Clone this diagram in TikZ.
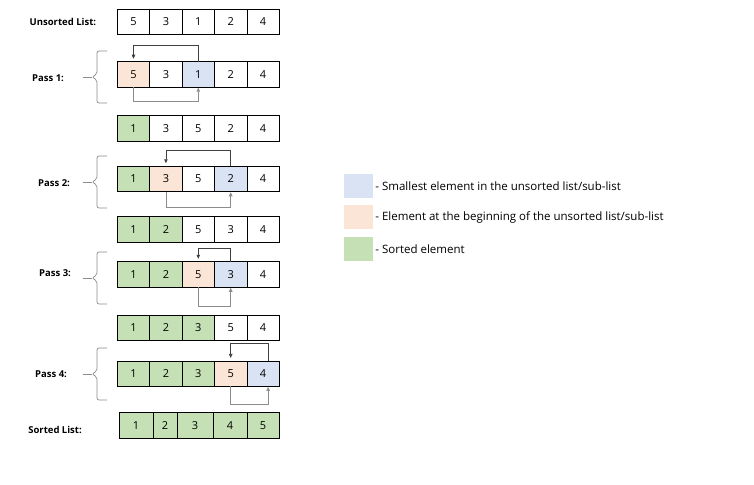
\documentclass[tikz,border=0pt]{standalone}
\usepackage{fontspec}
\setmainfont{Open Sans}
\usepackage{tikz}
\usetikzlibrary{
    arrows.meta,
    positioning
}
\definecolor{startpeach}{HTML}{FBE5D6}
\definecolor{minblue}{HTML}{DAE3F3}
\definecolor{sortgreen}{HTML}{C5E0B4}
\tikzset{
    cell/.style={
        rectangle,
        draw=black,
        line width=0.8pt,
        minimum width=32.4pt,
        minimum height=25.5pt,
        inner sep=0pt,
        outer sep=0pt,
        font=\fontsize{11}{13}\selectfont
    },
    rowlabel/.style={
        inner sep=0pt,
        font=\fontsize{9.5}{11}\selectfont\bfseries
    },
    legendbox/.style={
        rectangle,
        minimum width=29pt,
        minimum height=24pt,
        inner sep=0pt
    },
    legendtext/.style={
        inner sep=0pt,
        font=\fontsize{11.5}{13}\selectfont
    },
    swap/.style={
        -{Triangle[length=4pt, width=3.5pt]},
        line width=0.6pt,
        draw=black!75
    },
    swapback/.style={
        swap,
        draw=black!45
    },
    bracket/.style={
        draw=black!45,
        line width=0.7pt,
        rounded corners=2pt
    }
}

\begin{document}
\begin{tikzpicture}[x=1pt, y=-1pt]
\useasboundingbox (0,0) rectangle (754,484);

% rows of cells
\foreach \v/\f [count=\c] in {5/white, 3/white, 1/white, 2/white, 4/white}
    \node[cell, fill=\f] (uns\c) at ({101.1+32.4*\c}, 22) {\v};
\foreach \v/\f [count=\c] in {5/startpeach, 3/white, 1/minblue, 2/white, 4/white}
    \node[cell, fill=\f] (p1c\c) at ({101.1+32.4*\c}, 74.5) {\v};
\foreach \v/\f [count=\c] in {1/sortgreen, 3/white, 5/white, 2/white, 4/white}
    \node[cell, fill=\f] (a1c\c) at ({101.1+32.4*\c}, 128.5) {\v};
\foreach \v/\f [count=\c] in {1/sortgreen, 3/startpeach, 5/white, 2/minblue, 4/white}
    \node[cell, fill=\f] (p2c\c) at ({101.1+32.4*\c}, 179) {\v};
\foreach \v/\f [count=\c] in {1/sortgreen, 2/sortgreen, 5/white, 3/white, 4/white}
    \node[cell, fill=\f] (a2c\c) at ({101.1+32.4*\c}, 229.5) {\v};
\foreach \v/\f [count=\c] in {1/sortgreen, 2/sortgreen, 5/startpeach, 3/minblue, 4/white}
    \node[cell, fill=\f] (p3c\c) at ({101.1+32.4*\c}, 274.5) {\v};
\foreach \v/\f [count=\c] in {1/sortgreen, 2/sortgreen, 3/sortgreen, 5/white, 4/white}
    \node[cell, fill=\f] (a3c\c) at ({101.1+32.4*\c}, 328) {\v};
\foreach \v/\f [count=\c] in {1/sortgreen, 2/sortgreen, 3/sortgreen, 5/startpeach, 4/minblue}
    \node[cell, fill=\f] (p4c\c) at ({101.1+32.4*\c}, 373.7) {\v};
\foreach \v/\xc/\w [count=\c] in {1/136/34, 2/165/24, 3/195/36, 4/230/34, 5/263/32}
    \node[cell, fill=sortgreen, minimum width=\w pt] (srt\c) at (\xc, 425.5) {\v};

\node[rowlabel, left=21pt of uns1] (unslabel) {Unsorted List:};
\node[rowlabel, left=37pt of srt1, yshift=-4pt] (srtlabel) {Sorted List:};

% pass labels and brackets
\foreach \n/\y/\ly/\lx in {1/77/78/32, 2/182/183/38, 3/278/273/39, 4/374/374/35} {
    \node[rowlabel, anchor=west] (pass\n) at (\lx, \ly) {Pass \n:};
    \draw[bracket] (107,\y-26) -- (97,\y-26) -- (97,\y-3) -- (92,\y)
        -- (97,\y+3) -- (97,\y+26) -- (107,\y+26);
    \draw[bracket] (92,\y) -- (83,\y);
}

% swaps
\draw[swap, shorten >=3pt] (p1c3.north) -- ++(0,-16) -| (p1c1.north);
\draw[swapback, shorten >=0.5pt] (p1c1.south) -- ++(0,14) -| (p1c3.south);
\draw[swap, shorten >=3pt] (p2c4.north) -- ++(0,-16) -| (p2c2.north);
\draw[swapback, shorten >=0.5pt] (p2c2.south) -- ++(0,16) -| (p2c4.south);
\draw[swap, shorten >=3pt] (p3c4.north) -- ++(0,-13) -| (p3c3.north);
\draw[swapback, shorten >=0.5pt] (p3c3.south) -- ++(0,19) -| (p3c4.south);
\draw[swap, shorten >=3pt] ([xshift=5pt]p4c5.north) -- ++(0,-18) -| (p4c4.north);
\draw[swapback, shorten >=0.5pt] (p4c4.south) -- ++(0,18) -| ([xshift=5pt]p4c5.south);

% legend
\node[legendbox, fill=minblue] (keymin) at (358.5,186) {};
\node[legendbox, fill=startpeach, below=7pt of keymin] (keystart) {};
\node[legendbox, fill=sortgreen, below=7pt of keystart] (keysort) {};
\node[legendtext, right=2pt of keymin] (txtmin) {- Smallest element in the unsorted list/sub-list};
\node[legendtext, right=2pt of keystart] (txtstart) {- Element at the beginning of the unsorted list/sub-list};
\node[legendtext, right=2pt of keysort] (txtsort) {- Sorted element};
\end{tikzpicture}
\end{document}
